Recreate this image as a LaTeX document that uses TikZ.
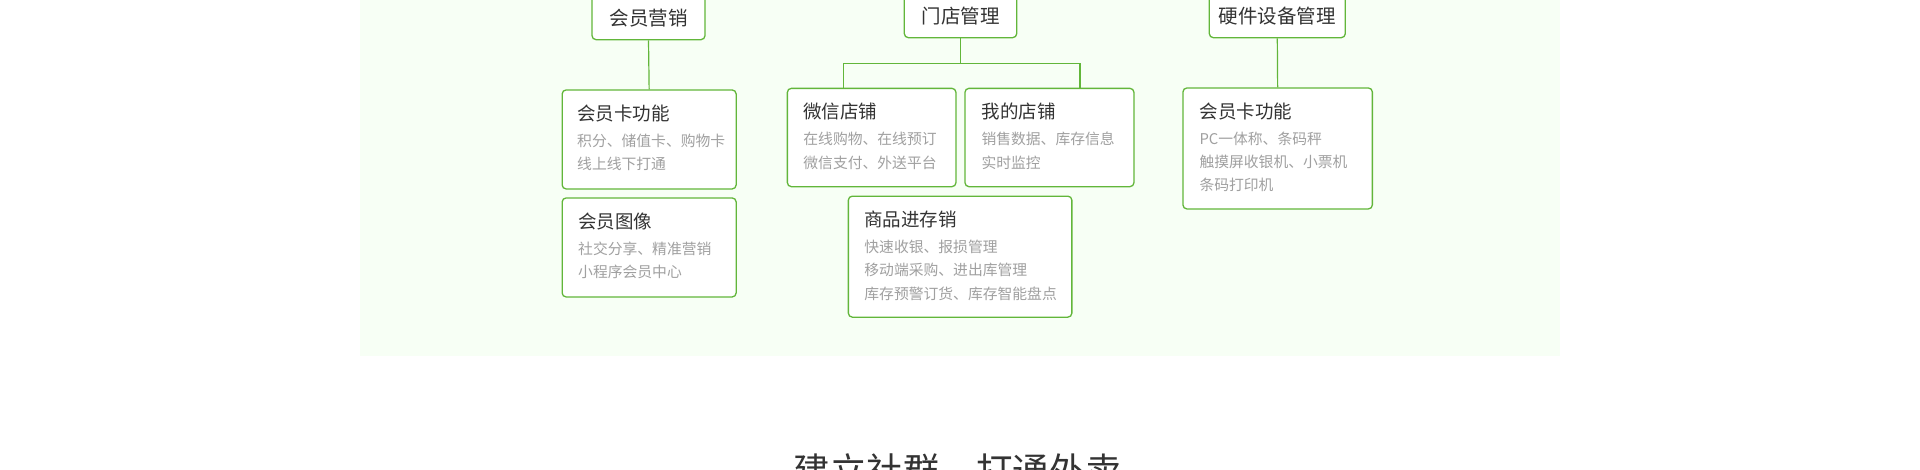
\documentclass[tikz,border=0pt]{standalone}
\usepackage{fontspec}
\setmainfont{Noto Sans CJK SC}
\usepackage{tikz}
\usetikzlibrary{positioning}

\definecolor{lineGreen}{RGB}{98,182,58}
\definecolor{panelGreen}{RGB}{247,255,245}
\definecolor{darkText}{RGB}{51,51,51}
\definecolor{greyText}{RGB}{160,160,160}

\tikzset{
  card/.style={draw=lineGreen, line width=1.3pt, rounded corners=4pt, fill=white, anchor=north west, inner sep=0pt},
  head/.style={anchor=base west, inner sep=0pt, text=darkText, font=\fontsize{18.5}{18.5}\selectfont},
  info/.style={anchor=base west, inner sep=0pt, align=left, text=greyText, font=\fontsize{14.8}{23.3}\selectfont},
  topbox/.style={draw=lineGreen, line width=1.3pt, rounded corners=4pt, fill=white, anchor=south, text=darkText,
    font=\fontsize{19.5}{19.5}\selectfont, text height=17.2pt, text depth=2.3pt, inner xsep=0pt, inner ysep=12.05pt},
  link/.style={draw=lineGreen, line width=1.2pt}
}

\begin{document}
\begin{tikzpicture}[x=1pt, y=-1pt]
\useasboundingbox (0,0) rectangle (1920,469);
\fill[panelGreen] (360,-10) rectangle (1560,356);

% top row
\node (member) [topbox, minimum width=113pt] at (648.5,40.3) {会员营销};
\node (store) [topbox, minimum width=112.4pt] at (960.5,38.3) {门店管理};
\node (hardware) [topbox, minimum width=136pt] at (1277.3,38.3) {硬件设备管理};

% cards
\node (mcard) [card, minimum width=174pt, minimum height=99pt] at (561.5,89.3) {};
\node (mimage) [card, minimum width=174pt, minimum height=99pt, below=7.7pt of mcard] {};
\node (wxshop) [card, minimum width=168.6pt, minimum height=98.3pt] at (786.7,87.7) {};
\node (myshop) [card, minimum width=169pt, minimum height=98.3pt] at (964.3,87.7) {};
\node (goods) [card, minimum width=223.5pt, minimum height=121pt] at (847.7,195.5) {};
\node (hwcard) [card, minimum width=189.4pt, minimum height=121pt] at (1182.3,87.3) {};

% card texts (info nodes sit on their last line)
\node (mcardT) [head] at ([shift={(15.5,31)}]mcard.north west) {会员卡功能};
\node (mcardI) [info] at ([shift={(15.5,80.3)}]mcard.north west) {积分、储值卡、购物卡\\线上线下打通};
\node (mimageT) [head] at ([shift={(16.5,31)}]mimage.north west) {会员图像};
\node (mimageI) [info] at ([shift={(16.5,80.3)}]mimage.north west) {社交分享、精准营销\\小程序会员中心};
\node (wxshopT) [head] at ([shift={(16.5,31)}]wxshop.north west) {微信店铺};
\node (wxshopI) [info] at ([shift={(16.5,80.3)}]wxshop.north west) {在线购物、在线预订\\微信支付、外送平台};
\node (myshopT) [head] at ([shift={(17,31)}]myshop.north west) {我的店铺};
\node (myshopI) [info] at ([shift={(17,80.3)}]myshop.north west) {销售数据、库存信息\\实时监控};
\node (goodsT) [head] at ([shift={(16.5,31)}]goods.north west) {商品进存销};
\node (goodsI) [info] at ([shift={(16.5,103.6)}]goods.north west) {快速收银、报损管理\\移动端采购、进出库管理\\库存预警订货、库存智能盘点};
\node (hwcardT) [head] at ([shift={(17,31)}]hwcard.north west) {会员卡功能};
\node (hwcardI) [info] at ([shift={(17,103.6)}]hwcard.north west) {PC一体称、条码秤\\触摸屏收银机、小票机\\条码打印机};

% slogan
\node (slogan) [anchor=base, inner sep=0pt, text=darkText, font=\fontsize{36.5}{36.5}\selectfont] at (958,484) {建立社群，打通外卖};

% lines
\coordinate (fork) at (960.5,63.3);
\draw[link] (member.south) -- (mcard.north);
\draw[link] (store.south) -- (fork);
\draw[link] ([xshift=56.6pt]wxshop.north west) |- (fork) -| ([xshift=115.6pt]myshop.north west);
\draw[link] (hardware.south) -- (hwcard.north);

\end{tikzpicture}
\end{document}
